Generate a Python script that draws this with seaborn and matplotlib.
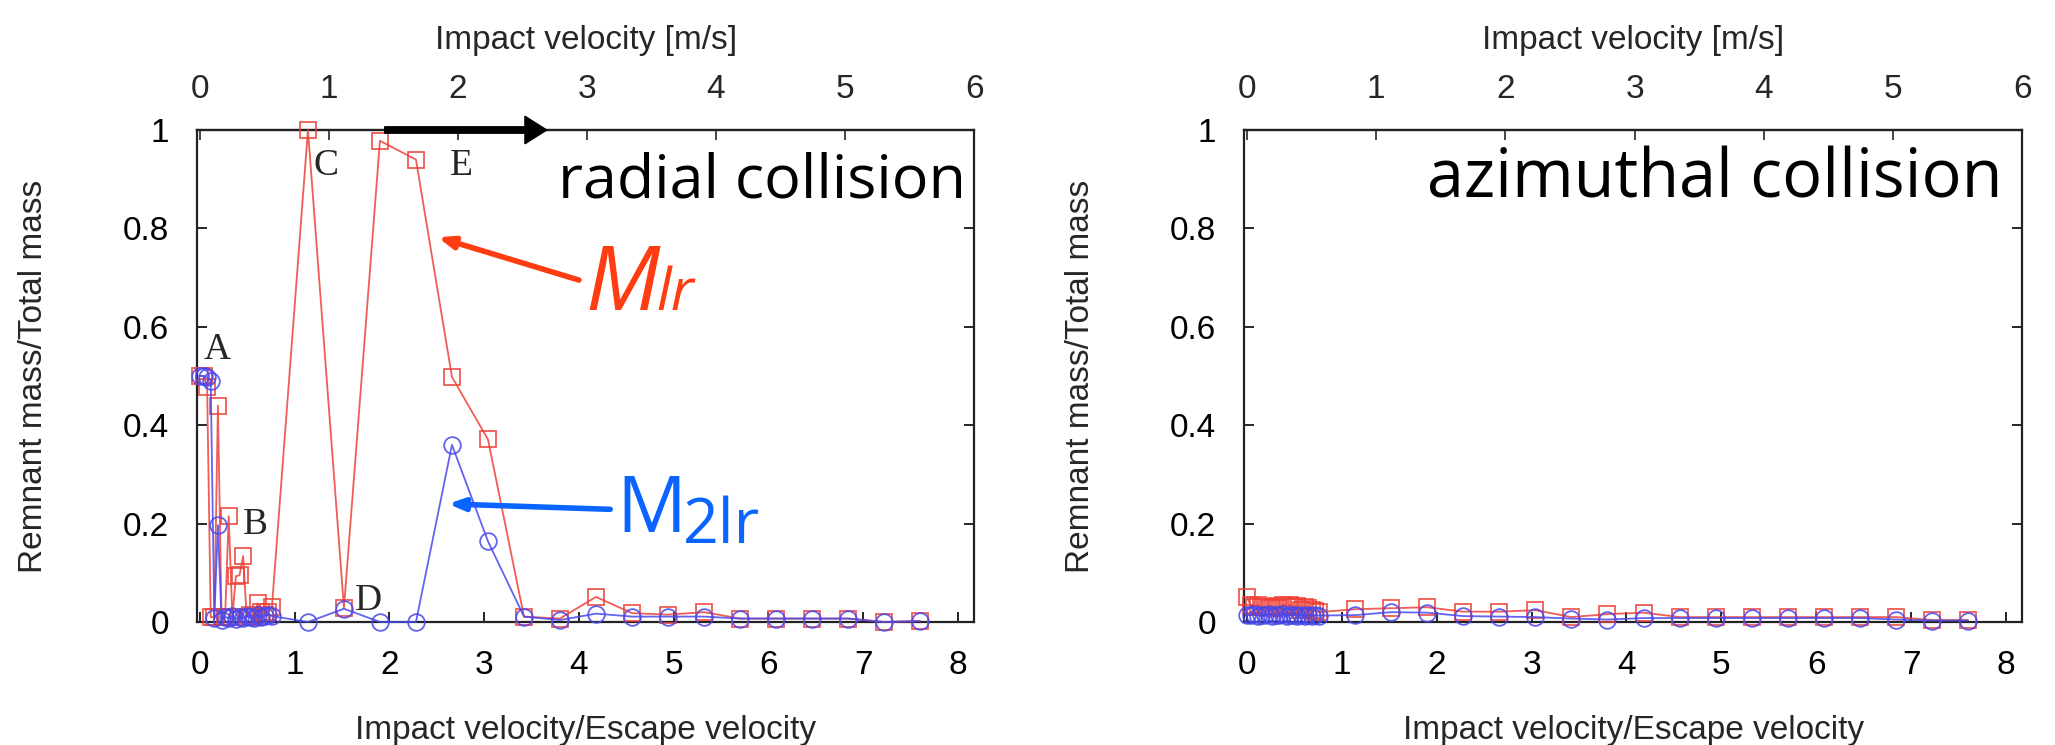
import matplotlib
matplotlib.use("Agg")
import matplotlib.pyplot as plt
import seaborn as sns
import numpy as np
import pandas as pd

# ---------------- data ----------------
# impact velocity / escape velocity (fine grid near 0, then coarse grid)
x_fine = [0.000, 0.038, 0.076, 0.114, 0.152, 0.190, 0.228, 0.266, 0.304, 0.342, 0.380,
          0.418, 0.456, 0.494, 0.532, 0.570, 0.608, 0.646, 0.684, 0.722, 0.760]
x_coarse = [1.14, 1.52, 1.90, 2.28, 2.66, 3.04, 3.42, 3.80, 4.18, 4.56, 4.94, 5.32,
            5.70, 6.08, 6.46, 6.84, 7.22, 7.60]

# radial collision
radial_m1_fine = [0.500, 0.500, 0.478, 0.010, 0.010, 0.440, 0.010, 0.010, 0.215, 0.010, 0.093,
                  0.095, 0.134, 0.010, 0.015, 0.010, 0.038, 0.020, 0.015, 0.020, 0.031]
radial_m1_coarse = [1.000, 0.029, 0.978, 0.940, 0.498, 0.371, 0.011, 0.007, 0.051, 0.018, 0.015,
                    0.020, 0.007, 0.007, 0.007, 0.007, 0.000, 0.002]
radial_m2_fine = [0.500, 0.500, 0.497, 0.490, 0.008, 0.197, 0.005, 0.010, 0.008, 0.012, 0.006,
                  0.010, 0.008, 0.012, 0.010, 0.008, 0.014, 0.010, 0.012, 0.015, 0.012]
radial_m2_coarse = [0.000, 0.027, 0.000, 0.000, 0.360, 0.164, 0.011, 0.004, 0.017, 0.011, 0.011,
                    0.011, 0.007, 0.007, 0.007, 0.007, 0.000, 0.002]

# azimuthal collision
azim_m1_fine = [0.050, 0.035, 0.030, 0.035, 0.030, 0.030, 0.028, 0.030, 0.032, 0.028, 0.035,
                0.030, 0.035, 0.030, 0.033, 0.025, 0.030, 0.028, 0.025, 0.022, 0.020]
azim_m1_coarse = [0.026, 0.028, 0.030, 0.021, 0.021, 0.024, 0.010, 0.016, 0.019, 0.010, 0.010,
                  0.010, 0.010, 0.010, 0.010, 0.010, 0.004, 0.004]
azim_m2_fine = [0.015, 0.014, 0.016, 0.013, 0.015, 0.014, 0.016, 0.013, 0.015, 0.014, 0.016,
                0.013, 0.014, 0.015, 0.012, 0.014, 0.013, 0.015, 0.012, 0.014, 0.013]
azim_m2_coarse = [0.014, 0.020, 0.019, 0.012, 0.011, 0.010, 0.007, 0.005, 0.008, 0.008, 0.008,
                  0.008, 0.008, 0.008, 0.008, 0.005, 0.003, 0.003]

x_ticks = [0, 1, 2, 3, 4, 5, 6, 7, 8]
top_ticks = [0, 1, 2, 3, 4, 5, 6]
y_ticks = [0, 0.2, 0.4, 0.6, 0.8, 1.0]
y_ticklabels = ["0", "0.2", "0.4", "0.6", "0.8", "1"]

panel_titles = ["radial collision", "azimuthal collision"]
xlabel_bottom = "Impact velocity/Escape velocity"
xlabel_top = "Impact velocity [m/s]"
ylabel = "Remnant mass/Total mass"

# ---------------- styling ----------------
sns.set_style("ticks")
plt.rcParams["font.family"] = ["Liberation Sans", "DejaVu Sans"]

RED = "#EE4038"
BLUE = "#4848EE"
XMAX = 8.17
K_TOP = 6.0 / XMAX  # bottom -> top axis conversion

fig = plt.figure(figsize=(20.55, 7.45), dpi=100)
axL = fig.add_axes([0.0959, 0.1651, 0.3781, 0.6604])
axR = fig.add_axes([0.6054, 0.1651, 0.3786, 0.6604])


def make_df(xf, xc, yf, yc):
    return pd.DataFrame({"x": list(xf) + list(xc), "y": list(yf) + list(yc)})


def draw_panel(ax, m1f, m1c, m2f, m2c, title, title_x, title_size):
    d1 = make_df(x_fine, x_coarse, m1f, m1c)
    d2 = make_df(x_fine, x_coarse, m2f, m2c)
    sns.lineplot(data=d1, x="x", y="y", ax=ax, color=RED, lw=1.3, marker="s",
                 markersize=12, markerfacecolor="none", markeredgecolor=RED,
                 markeredgewidth=1.3, sort=False, estimator=None, alpha=0.85,
                 clip_on=False, zorder=3)
    sns.lineplot(data=d2, x="x", y="y", ax=ax, color=BLUE, lw=1.3, marker="o",
                 markersize=12, markerfacecolor="none", markeredgecolor=BLUE,
                 markeredgewidth=1.3, sort=False, estimator=None, alpha=0.85,
                 clip_on=False, zorder=4)
    ax.set_xlim(-0.03, XMAX)
    ax.set_ylim(0, 1)
    ax.set_xticks(x_ticks)
    ax.set_xticklabels([str(t) for t in x_ticks])
    ax.set_yticks(y_ticks)
    ax.set_yticklabels(y_ticklabels)
    ax.tick_params(axis="both", direction="in", length=7, width=1.2,
                   labelsize=24, pad=20, colors="black")
    ax.tick_params(axis="y", right=True)
    ax.tick_params(axis="x", top=False)
    for s in ax.spines.values():
        s.set_linewidth(1.6)
        s.set_color("#222222")
        s.set_visible(True)
    ax.set_xlabel(xlabel_bottom, fontsize=24)
    ax.set_ylabel(ylabel, fontsize=24)
    ax.xaxis.set_label_coords(0.5, -0.19)
    ax.yaxis.set_label_coords(-0.19, 0.5)

    sec = ax.secondary_xaxis("top", functions=(lambda v: v * K_TOP, lambda v: v / K_TOP))
    sec.set_xticks(top_ticks)
    sec.set_xticklabels([str(t) for t in top_ticks])
    sec.tick_params(direction="in", length=7, width=1.2, labelsize=24, pad=18)
    sec.spines["top"].set_linewidth(1.6)
    ax.text(0.5, 1.181, xlabel_top, transform=ax.transAxes, ha="center",
            va="center", fontsize=24)

    ax.text(title_x, 0.862, title, transform=ax.transAxes, ha="right",
            va="baseline", fontsize=title_size, family="Open Sans", color="black")


draw_panel(axL, radial_m1_fine, radial_m1_coarse, radial_m2_fine, radial_m2_coarse,
           panel_titles[0], 0.99, 44)
draw_panel(axR, azim_m1_fine, azim_m1_coarse, azim_m2_fine, azim_m2_coarse,
           panel_titles[1], 0.975, 48)

# point labels A-E on the radial panel
serif = ["Liberation Serif", "DejaVu Serif"]
point_labels = ["A", "B", "C", "D", "E"]
label_xy = [(0.035, 0.535), (0.456, 0.178), (1.196, 0.909), (1.64, 0.025), (2.64, 0.909)]
for lab, (lx, ly) in zip(point_labels, label_xy):
    axL.text(lx, ly, lab, family=serif, fontsize=27, ha="left", va="baseline",
             zorder=6)

# thick black arrow on the top axis
axL.arrow(1.95, 1.0, 1.71, 0.0, width=0.013, head_width=0.056, head_length=0.23,
          length_includes_head=True, color="black", clip_on=False, zorder=7)

# M_lr annotation
ORANGE = "#FF3D12"
AZURE = "#0A64FF"
axL.annotate("", xy=(2.51, 0.782), xytext=(4.0, 0.695),
             arrowprops=dict(arrowstyle="-|>,head_length=0.9,head_width=0.35",
                             color=ORANGE, lw=4, shrinkA=0, shrinkB=0))
axL.text(4.07, 0.635, "M", color=ORANGE, fontsize=64, style="italic",
         family="Open Sans", ha="left", va="baseline")
axL.text(4.82, 0.635, "lr", color=ORANGE, fontsize=42, style="italic",
         family="Open Sans", ha="left", va="baseline")

# M_2lr annotation
axL.annotate("", xy=(2.62, 0.240), xytext=(4.33, 0.229),
             arrowprops=dict(arrowstyle="-|>,head_length=0.9,head_width=0.35",
                             color=AZURE, lw=4, shrinkA=0, shrinkB=0))
axL.text(4.4, 0.182, "M", color=AZURE, fontsize=56,
         family="Open Sans", ha="left", va="baseline")
axL.text(5.1, 0.160, "2lr", color=AZURE, fontsize=45,
         family="Open Sans", ha="left", va="baseline")

fig.savefig("out.png", dpi=100)
